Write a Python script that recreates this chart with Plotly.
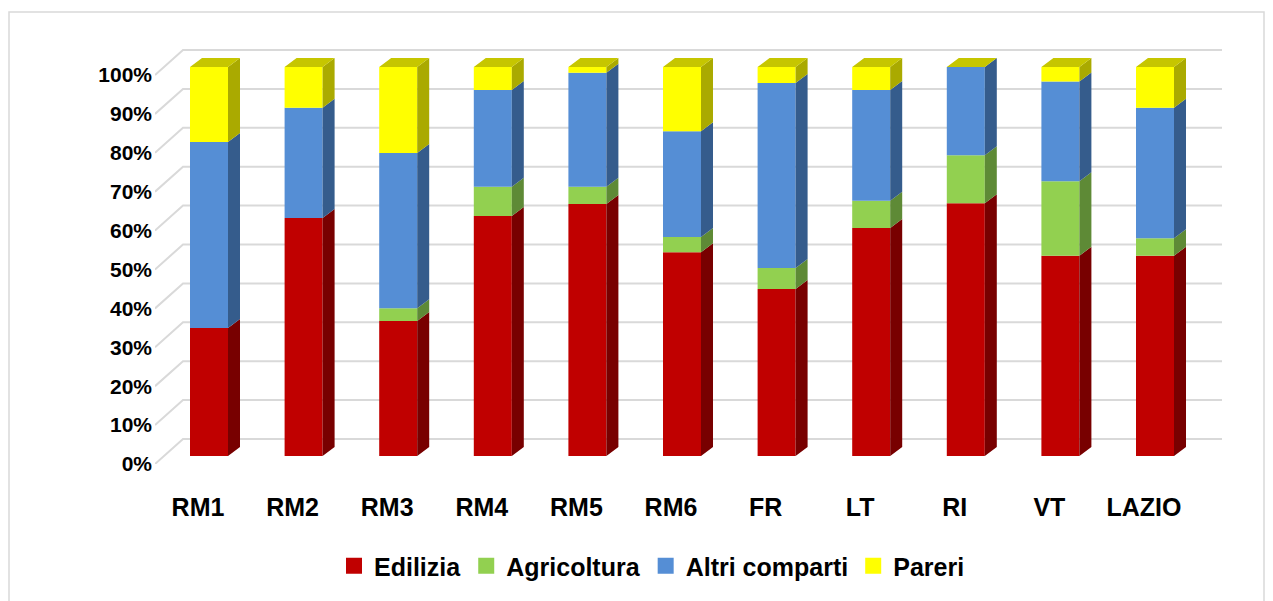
import plotly.graph_objects as go

# ---- data (percent shares) ----
categories = ["RM1", "RM2", "RM3", "RM4", "RM5", "RM6", "FR", "LT", "RI", "VT", "LAZIO"]
edilizia = [32.9, 61.2, 34.7, 61.7, 64.8, 52.4, 42.9, 58.6, 65.0, 51.5, 51.5]
agricoltura = [0.0, 0.0, 3.3, 7.5, 4.4, 3.9, 5.4, 7.0, 12.3, 19.1, 4.5]
altri_comparti = [47.8, 28.3, 39.9, 24.9, 29.3, 27.2, 47.6, 28.5, 22.7, 25.7, 33.5]
pareri = [19.3, 10.5, 22.1, 5.9, 1.5, 16.5, 4.1, 5.9, 0.0, 3.7, 10.5]
y_ticks = [0, 10, 20, 30, 40, 50, 60, 70, 80, 90, 100]
y_tick_text = [f"{v}%" for v in y_ticks]

series = [
    ("Edilizia", edilizia, "#C00000", "#780000"),
    ("Agricoltura", agricoltura, "#92D050", "#5E8A36"),
    ("Altri comparti", altri_comparti, "#558ED5", "#355C8C"),
    ("Pareri", pareri, "#FFFF00", "#AAAA00"),
]
TOP_COLOR = "#C6C600"
GRID_COLOR = "#D9D9D9"

# ---- layout geometry (pixels, page body has an 8px margin) ----
OFF = 8
W, H = 1273 - OFF, 601 - OFF
L, R, T, B = 155 - OFF, 1250 - OFF, 40 - OFF, 464 - OFF
SX = 94.6          # px per category slot
SY = 3.89          # px per percent
LABEL0 = 198 - OFF # pixel centre of first category
x0 = -(LABEL0 - L) / SX
x1 = x0 + (R - L) / SX
y_top = (B - T) / SY

# oblique depth offsets converted to data units
bar_dx, bar_dy = 11 / SX, 8 / SY        # bar front face vs. floor front
side_dx, side_dy = 12 / SX, 9 / SY      # bar depth
wall_dx, wall_dy = 28 / SX, 25 / SY     # back wall depth
wall_right = x0 + (1222 - OFF - L) / SX
bar_w = 38 / SX

pos = list(range(len(categories)))
fig = go.Figure()

cum = [bar_dy] * len(categories)
side_traces = []
legend_traces = []
for name, vals, col, dark in series:
    fig.add_trace(go.Bar(
        x=pos, y=vals, base=list(cum), name=name, showlegend=False,
        width=bar_w, offset=bar_dx - bar_w / 2,
        marker=dict(color=col, line=dict(width=0)),
        hoverinfo="skip",
    ))
    xs, ys = [], []
    for i, v in enumerate(vals):
        if v > 0:
            xr = i + bar_dx + bar_w / 2
            yb, yt = cum[i], cum[i] + v
            xs += [xr, xr + side_dx, xr + side_dx, xr, xr, None]
            ys += [yb, yb + side_dy, yt + side_dy, yt, yb, None]
        cum[i] += v
    side_traces.append(go.Scatter(
        x=xs, y=ys, fill="toself", fillcolor=dark, mode="lines",
        line=dict(width=0, color=dark), showlegend=False, hoverinfo="skip"))
    legend_traces.append(go.Scatter(
        x=[None], y=[None], mode="markers", name=f"<b>{name}</b>",
        marker=dict(symbol="square", size=16, color=col, line=dict(width=0)),
        showlegend=True, hoverinfo="skip"))

for tr in side_traces:
    fig.add_trace(tr)

# top faces
tx, ty = [], []
for i in pos:
    xl = i + bar_dx - bar_w / 2
    xr = i + bar_dx + bar_w / 2
    yt = cum[i]
    tx += [xl, xr, xr + side_dx, xl + side_dx, xl, None]
    ty += [yt, yt, yt + side_dy, yt + side_dy, yt, None]
fig.add_trace(go.Scatter(
    x=tx, y=ty, fill="toself", fillcolor=TOP_COLOR, mode="lines",
    line=dict(width=0, color=TOP_COLOR), showlegend=False, hoverinfo="skip"))

for tr in legend_traces:
    fig.add_trace(tr)

# back wall + side wall gridlines
shapes = []
for v in y_ticks:
    path = (f"M {x0},{v} L {x0 + wall_dx},{v + wall_dy} "
            f"L {wall_right},{v + wall_dy}")
    shapes.append(dict(type="path", path=path, xref="x", yref="y",
                       line=dict(color=GRID_COLOR, width=2), layer="below"))

# outer chart border (bottom edge lies just outside the window)
pw, ph = R - L, B - T
shapes.append(dict(type="rect", xref="paper", yref="paper",
                   x0=(9 - OFF - L) / pw, x1=(1264 - OFF - L) / pw,
                   y0=(B - (606 - OFF)) / ph, y1=(B - (12 - OFF)) / ph,
                   line=dict(color=GRID_COLOR, width=1.5), layer="below"))

fig.update_layout(
    width=W, height=H,
    margin=dict(l=L, r=W - R, t=T, b=H - B, pad=0),
    paper_bgcolor="white", plot_bgcolor="white",
    barmode="overlay",
    shapes=shapes,
    font=dict(family="Liberation Sans, Arial, sans-serif", color="black"),
    showlegend=True,
    legend=dict(orientation="h", x=(652 - OFF - L) / pw, xanchor="center",
                y=-(566 - OFF - B) / ph, yanchor="middle",
                font=dict(size=25, family="Liberation Sans, Arial, sans-serif"),
                itemsizing="trace", itemwidth=30, traceorder="normal"),
    xaxis=dict(range=[x0, x1], tickmode="array", tickvals=pos,
               ticktext=[f"<b>{c}</b>" for c in categories],
               showgrid=False, zeroline=False, showline=False, ticks="",
               tickfont=dict(size=25), ticklabelstandoff=26),
    yaxis=dict(range=[0, y_top], tickmode="array", tickvals=y_ticks,
               ticktext=[f"<b>{t}</b>" for t in y_tick_text],
               showgrid=False, zeroline=False, showline=False, ticks="",
               tickfont=dict(size=21), ticklabelstandoff=2),
)

fig.write_html("out.html")
